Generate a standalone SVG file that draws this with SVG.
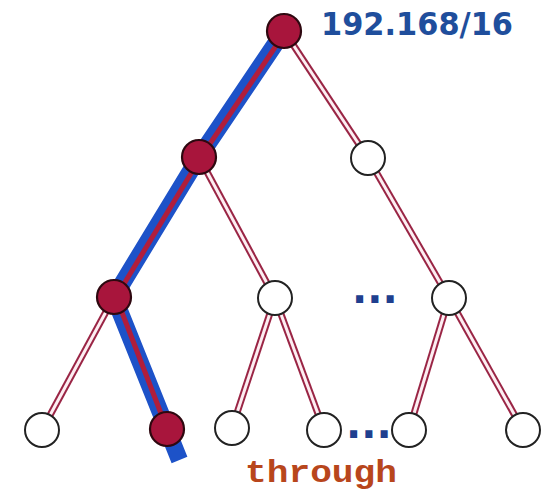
<svg xmlns="http://www.w3.org/2000/svg" width="541" height="494" viewBox="0 0 541 494">
<style>
.eo{stroke:#9a2545;stroke-width:7;fill:none}
.ei{stroke:#fdeef2;stroke-width:3;fill:none}
.n{fill:#ffffff;stroke:#222222;stroke-width:2}
.f{fill:#a8153c;stroke:#2e0810;stroke-width:2.2}
.dots{font-family:"DejaVu Sans",sans-serif;font-weight:bold;font-size:40px;fill:#1f3f8f}
</style>
<rect width="541" height="494" fill="#ffffff"/>
<g id="connectors">
<g id="edges-outer">
<line class="eo" x1="284" y1="31" x2="368" y2="158"/>
<line class="eo" x1="199" y1="157" x2="275" y2="298"/>
<line class="eo" x1="368" y1="158" x2="449" y2="298"/>
<line class="eo" x1="114" y1="297" x2="42" y2="430"/>
<line class="eo" x1="275" y1="298" x2="232" y2="428"/>
<line class="eo" x1="275" y1="298" x2="324" y2="430"/>
<line class="eo" x1="449" y1="298" x2="409" y2="430"/>
<line class="eo" x1="449" y1="298" x2="523" y2="430"/>
</g>
<g id="edges-inner">
<line class="ei" x1="284" y1="31" x2="368" y2="158"/>
<line class="ei" x1="199" y1="157" x2="275" y2="298"/>
<line class="ei" x1="368" y1="158" x2="449" y2="298"/>
<line class="ei" x1="114" y1="297" x2="42" y2="430"/>
<line class="ei" x1="275" y1="298" x2="232" y2="428"/>
<line class="ei" x1="275" y1="298" x2="324" y2="430"/>
<line class="ei" x1="449" y1="298" x2="409" y2="430"/>
<line class="ei" x1="449" y1="298" x2="523" y2="430"/>
</g>
<g id="highlight-path">
<polyline points="284,31 199,157 114,297 179.5,460" fill="none" stroke="#1d52c8" stroke-width="17" stroke-linejoin="miter" stroke-linecap="butt"/>
<polyline points="286,31 201,157 116,297 167,429" fill="none" stroke="#b01e3c" stroke-width="5" stroke-linejoin="round"/>
</g>
</g>
<g id="root"><circle class="f" cx="284" cy="31" r="17"/></g>
<g id="n1a"><circle class="f" cx="199" cy="157" r="17"/></g>
<g id="n1b"><circle class="n" cx="368" cy="158" r="17"/></g>
<g id="n2a"><circle class="f" cx="114" cy="297" r="17"/></g>
<g id="n2b"><circle class="n" cx="275" cy="298" r="17"/></g>
<g id="n2c"><circle class="n" cx="449" cy="298" r="17"/></g>
<g id="leaf1"><circle class="n" cx="42" cy="430" r="17"/></g>
<g id="leaf2"><circle class="f" cx="167" cy="429" r="17"/></g>
<g id="leaf3"><circle class="n" cx="232" cy="428" r="17"/></g>
<g id="leaf4"><circle class="n" cx="324" cy="430" r="17"/></g>
<g id="leaf5"><circle class="n" cx="409" cy="430" r="17"/></g>
<g id="leaf6"><circle class="n" cx="523" cy="430" r="17"/></g>
<g id="labels">
<text x="321" y="35" font-family="'DejaVu Sans',Verdana,sans-serif" font-weight="bold" font-size="32" fill="#1f4e9c" textLength="192" lengthAdjust="spacingAndGlyphs">192.168/16</text>
<text class="dots" x="352" y="303">...</text>
<text class="dots" x="346" y="438">...</text>
<text x="245" y="482" font-family="'Liberation Mono','Courier New',monospace" font-weight="bold" font-size="32" fill="#b8461c" textLength="152" lengthAdjust="spacingAndGlyphs">through</text>
</g>
</svg>
